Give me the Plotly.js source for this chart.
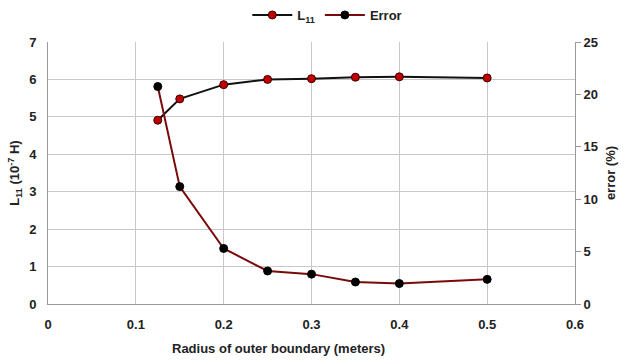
<!DOCTYPE html>
<html><head><meta charset="utf-8">
<script src="https://cdn.plot.ly/plotly-3.0.1.min.js"></script>
<style>html,body{margin:0;padding:0;background:#fff}#c{width:625px;height:361px}</style>
</head><body><div id="c"></div>
<script>
const radius = [0.125, 0.15, 0.2, 0.25, 0.3, 0.35, 0.4, 0.5];
const l11 = [4.91, 5.48, 5.86, 6.0, 6.02, 6.06, 6.07, 6.04];
const errorPct = [20.75, 11.2, 5.3, 3.15, 2.85, 2.1, 1.95, 2.35];
const xTicks = [0, 0.1, 0.2, 0.3, 0.4, 0.5, 0.6];
const xTickText = ['0', '0.1', '0.2', '0.3', '0.4', '0.5', '0.6'];

const tickFont = {family: 'Liberation Sans, Arial, sans-serif', size: 13, color: '#222', weight: 'bold'};
const traces = [
  {x: radius, y: l11, name: 'L<sub>11</sub>', type: 'scatter', mode: 'lines+markers',
   line: {color: '#111', width: 2},
   marker: {color: '#c00000', size: 8, line: {color: '#3a0000', width: 1}}},
  {x: radius, y: errorPct, name: 'Error', type: 'scatter', mode: 'lines+markers', yaxis: 'y2',
   line: {color: '#7a0a0a', width: 2},
   marker: {color: '#000', size: 8, line: {color: '#000', width: 1}}}
];
const layout = {
  width: 625, height: 361,
  margin: {l: 48, r: 50, t: 42, b: 57},
  paper_bgcolor: '#fff', plot_bgcolor: '#fff',
  showlegend: true,
  legend: {orientation: 'h', x: 0.53, xanchor: 'center', y: 1.0, yanchor: 'top', yref: 'container',
           itemwidth: 40, tracegroupgap: 0,
           font: {family: 'Liberation Sans, Arial, sans-serif', size: 13, color: '#222', weight: 'bold'}},
  xaxis: {range: [0, 0.6], showgrid: true, gridcolor: '#c8c8c8', zeroline: false,
          showline: true, linecolor: '#999', ticks: '', tickfont: tickFont, ticklabelstandoff: 8,
          tickvals: xTicks, ticktext: xTickText},
  yaxis: {range: [0, 7], dtick: 1, showgrid: true, gridcolor: '#c8c8c8', zeroline: false,
          showline: true, linecolor: '#999', ticks: '', tickfont: tickFont, ticklabelstandoff: 8,
          title: {text: 'L<sub>11</sub> (10<sup>-7</sup> H)', standoff: 6,
                  font: {family: 'Liberation Sans, Arial, sans-serif', size: 13, color: '#222', weight: 'bold'}}},
  yaxis2: {range: [0, 25], dtick: 5, overlaying: 'y', side: 'right', showgrid: false, zeroline: false,
           showline: true, linecolor: '#999', ticks: 'outside', ticklen: 5, tickcolor: '#999',
           tickfont: tickFont,
           title: {text: 'error (%)', standoff: 8,
                   font: {family: 'Liberation Sans, Arial, sans-serif', size: 13, color: '#222', weight: 'bold'}}},
  annotations: [{text: 'Radius of outer boundary (meters)', xref: 'paper', yref: 'paper',
                 x: 0.437, y: -0.135, xanchor: 'center', yanchor: 'top', showarrow: false,
                 font: {family: 'Liberation Sans, Arial, sans-serif', size: 13, color: '#222', weight: 'bold'}}]
};
Plotly.newPlot('c', traces, layout, {displayModeBar: false, staticPlot: true});
</script></body></html>
